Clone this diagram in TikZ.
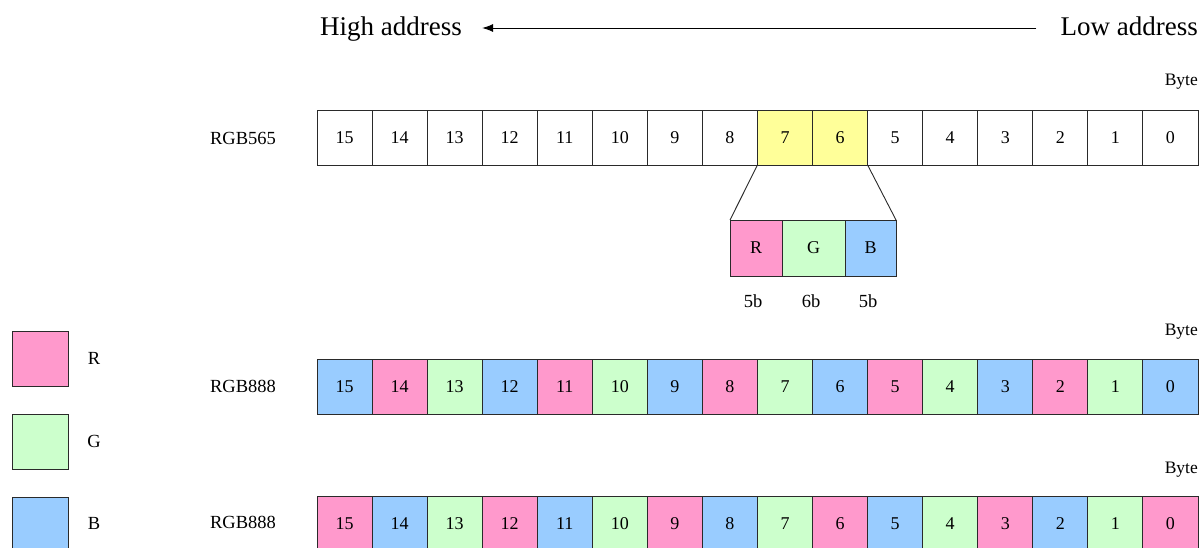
\documentclass[tikz,border=0pt]{standalone}
\usepackage{fontspec}
\setmainfont{Liberation Serif}
\usetikzlibrary{arrows.meta}
\definecolor{cR}{HTML}{FF99CC}
\definecolor{cG}{HTML}{CCFFCC}
\definecolor{cB}{HTML}{99CCFF}
\definecolor{cY}{HTML}{FFFF99}
\definecolor{cW}{HTML}{FFFFFF}
\definecolor{edgecol}{HTML}{2A2A2A}
\begin{document}
\begin{tikzpicture}[x=1pt,y=-1pt,
  cell/.style={draw=edgecol,line width=0.9pt,minimum width=55.06pt,minimum height=55pt,
    inner sep=0pt,outer sep=0pt,anchor=north west,font=\fontsize{18}{20}\selectfont},
  ebox/.style={draw=edgecol,line width=0.9pt,minimum height=56pt,inner sep=0pt,outer sep=0pt,
    anchor=north west,font=\fontsize{18}{20}\selectfont},
  lbl/.style={inner sep=0pt,font=\fontsize{18.5}{20}\selectfont},
  bytelbl/.style={inner sep=0pt,anchor=base east,font=\fontsize{17.5}{19}\selectfont},
  big/.style={inner sep=0pt,font=\fontsize{27}{30}\selectfont},
  zoomline/.style={draw=edgecol,line width=0.9pt}]
\useasboundingbox (0,0) rectangle (1200,548);

% header
\node[big,anchor=base west] (high) at (320,36) {High address};
\node[big,anchor=base east] (low) at (1198,36) {Low address};
\draw[line width=0.9pt,-{Latex[length=11pt,width=8pt]},shorten <=24pt,shorten >=20pt]
  (low.west |- 0,28) -- (high.east |- 0,28);

% RGB565 row
\node[bytelbl] (byte1) at (1198,86) {Byte};
\node[lbl] (lab565) at (243,138) {RGB565};
\foreach \lab/\col [count=\i from 0] in
  {15/cW,14/cW,13/cW,12/cW,11/cW,10/cW,9/cW,8/cW,7/cY,6/cY,5/cW,4/cW,3/cW,2/cW,1/cW,0/cW}
  \node[cell,fill=\col] (a\lab) at ({317+55.06*\i},110) {\lab};

% expansion
\node[ebox,fill=cR,minimum width=52pt] (eR) at (730,220) {R};
\node[ebox,fill=cG,minimum width=63pt] (eG) at (782,220) {G};
\node[ebox,fill=cB,minimum width=51pt] (eB) at (845,220) {B};
\draw[zoomline] (a7.south west) -- (eR.north west);
\draw[zoomline] (a6.south east) -- (eB.north east);
\node[lbl,anchor=base] (bR) at (753,307) {5b};
\node[lbl,anchor=base] (bG) at (811,307) {6b};
\node[lbl,anchor=base] (bB) at (868,307) {5b};

% RGB888 row (BGR)
\node[bytelbl] (byte2) at (1198,335) {Byte};
\node[lbl] (lab888a) at (243,386) {RGB888};
\foreach \lab/\col [count=\i from 0] in
  {15/cB,14/cR,13/cG,12/cB,11/cR,10/cG,9/cB,8/cR,7/cG,6/cB,5/cR,4/cG,3/cB,2/cR,1/cG,0/cB}
  \node[cell,fill=\col] (b\lab) at ({317+55.06*\i},359) {\lab};

% RGB888 row (RBG)
\node[bytelbl] (byte3) at (1198,473) {Byte};
\node[lbl] (lab888b) at (243,522) {RGB888};
\foreach \lab/\col [count=\i from 0] in
  {15/cR,14/cB,13/cG,12/cR,11/cB,10/cG,9/cR,8/cB,7/cG,6/cR,5/cB,4/cG,3/cR,2/cB,1/cG,0/cR}
  \node[cell,fill=\col] (c\lab) at ({317+55.06*\i},496) {\lab};

% legend
\node[ebox,fill=cR,minimum width=56pt,minimum height=55pt] (legR) at (12,331) {};
\node[ebox,fill=cG,minimum width=56pt,minimum height=55pt] (legG) at (12,414) {};
\node[ebox,fill=cB,minimum width=56pt,minimum height=55pt] (legB) at (12,497) {};
\node[lbl] (legRt) at (94,358) {R};
\node[lbl] (legGt) at (94,441) {G};
\node[lbl] (legBt) at (94,523) {B};
\end{tikzpicture}
\end{document}
